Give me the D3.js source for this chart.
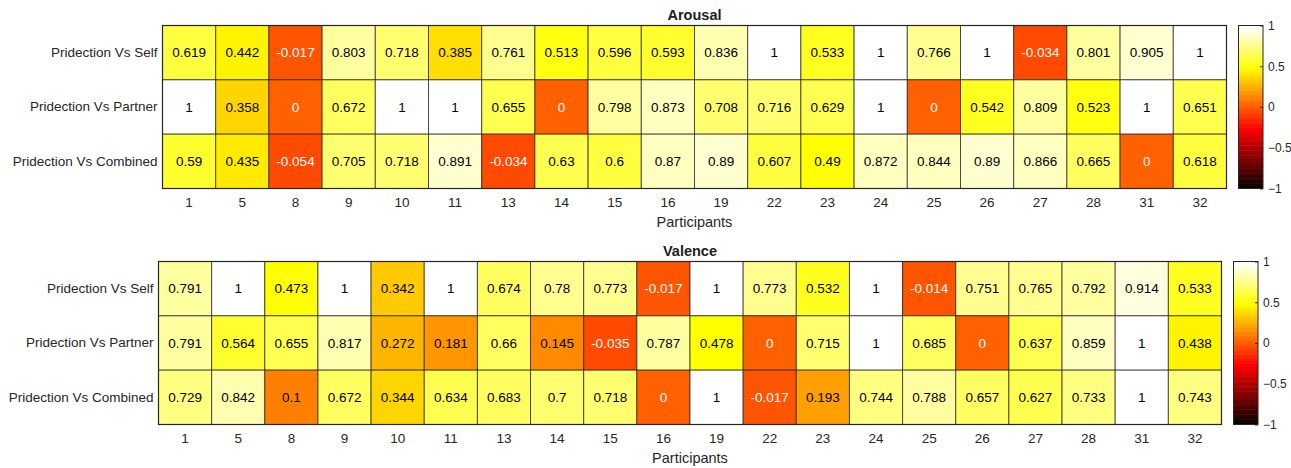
<!DOCTYPE html>
<html>
<head>
<meta charset="utf-8">
<script src="https://cdn.jsdelivr.net/npm/d3@7"></script>
<style>
  html, body { margin: 0; padding: 0; background: #fff; }
  svg { display: block; font-family: "Liberation Sans", Arial, Helvetica, sans-serif; }
</style>
</head>
<body>
<svg id="chart" width="1291" height="468"></svg>
<script>
// Participant IDs (columns) and comparison rows
const participants = [1, 5, 8, 9, 10, 11, 13, 14, 15, 16, 19, 22, 23, 24, 25, 26, 27, 28, 31, 32];
const comparisons = ["Pridection Vs Self", "Pridection Vs Partner", "Pridection Vs Combined"];

// Arousal correlations
const arousalSelf     = [0.619, 0.442, -0.017, 0.803, 0.718, 0.385, 0.761, 0.513, 0.596, 0.593, 0.836, 1, 0.533, 1, 0.766, 1, -0.034, 0.801, 0.905, 1];
const arousalPartner  = [1, 0.358, 0, 0.672, 1, 1, 0.655, 0, 0.798, 0.873, 0.708, 0.716, 0.629, 1, 0, 0.542, 0.809, 0.523, 1, 0.651];
const arousalCombined = [0.59, 0.435, -0.054, 0.705, 0.718, 0.891, -0.034, 0.63, 0.6, 0.87, 0.89, 0.607, 0.49, 0.872, 0.844, 0.89, 0.866, 0.665, 0, 0.618];

// Valence correlations
const valenceSelf     = [0.791, 1, 0.473, 1, 0.342, 1, 0.674, 0.78, 0.773, -0.017, 1, 0.773, 0.532, 1, -0.014, 0.751, 0.765, 0.792, 0.914, 0.533];
const valencePartner  = [0.791, 0.564, 0.655, 0.817, 0.272, 0.181, 0.66, 0.145, -0.035, 0.787, 0.478, 0, 0.715, 1, 0.685, 0, 0.637, 0.859, 1, 0.438];
const valenceCombined = [0.729, 0.842, 0.1, 0.672, 0.344, 0.634, 0.683, 0.7, 0.718, 0, 1, -0.017, 0.193, 0.744, 0.788, 0.657, 0.627, 0.733, 1, 0.743];

const colorbarTicks = [-1, -0.5, 0, 0.5, 1];
const xAxisTitle = "Participants";

// 64-step "hot" colormap
function hotColormap(n) {
  const n1 = Math.floor(3 * n / 8);
  const out = [];
  for (let i = 0; i < n; i++) {
    let r, g, b;
    r = i < n1 ? (i + 1) / n1 : 1;
    g = i < n1 ? 0 : (i < 2 * n1 ? (i - n1 + 1) / n1 : 1);
    b = i < 2 * n1 ? 0 : (i - 2 * n1 + 1) / (n - 2 * n1);
    out.push([r, g, b]);
  }
  return out;
}
const hot = hotColormap(64);
const hotCss = hot.map(([r, g, b]) => d3.rgb(Math.round(r * 255), Math.round(g * 255), Math.round(b * 255)).formatHex());
const color = d3.scaleQuantize().domain([-1, 1]).range(hotCss);

function textColorFor(v) {
  const c = d3.rgb(color(v));
  const lum = (0.299 * c.r + 0.587 * c.g + 0.114 * c.b) / 255;
  return lum < 0.55 ? "#ffffff" : "#000000";
}

const svg = d3.select("#chart");
const labelColor = "#262626";

function drawHeatmap(opts) {
  const { title, rows, left, right, top, bottom, cbLeft, cbWidth } = opts;
  const g = svg.append("g");

  const x = d3.scaleBand().domain(participants).range([left, right]);
  const y = d3.scaleBand().domain(comparisons).range([top, bottom]);

  const cells = [];
  comparisons.forEach((c, ri) => {
    rows[ri].forEach((v, ci) => cells.push({ row: c, col: participants[ci], v }));
  });

  g.selectAll("rect.cell").data(cells).enter().append("rect")
    .attr("class", "cell")
    .attr("x", d => x(d.col))
    .attr("y", d => y(d.row))
    .attr("width", x.bandwidth())
    .attr("height", y.bandwidth())
    .attr("fill", d => color(d.v))
    .attr("stroke", "#262626")
    .attr("stroke-opacity", 0.75)
    .attr("stroke-width", 1);

  g.selectAll("text.val").data(cells).enter().append("text")
    .attr("class", "val")
    .attr("x", d => x(d.col) + x.bandwidth() / 2)
    .attr("y", d => y(d.row) + y.bandwidth() / 2)
    .attr("text-anchor", "middle")
    .attr("dominant-baseline", "central")
    .attr("font-size", "13.5px")
    .attr("fill", d => textColorFor(d.v))
    .text(d => d3.format("~g")(d.v).replace("−", "-"));

  // outer frame
  g.append("rect")
    .attr("x", left).attr("y", top)
    .attr("width", right - left).attr("height", bottom - top)
    .attr("fill", "none").attr("stroke", "#262626").attr("stroke-width", 1.2);

  // x axis
  const xa = g.append("g")
    .attr("transform", `translate(0,${bottom})`)
    .call(d3.axisBottom(x).tickSize(0).tickPadding(9));
  xa.select(".domain").remove();
  xa.selectAll("text").attr("font-size", "13.5px").attr("fill", labelColor)
    .attr("font-family", "Liberation Sans, Arial, sans-serif");

  // y axis
  const ya = g.append("g")
    .attr("transform", `translate(${left},0)`)
    .call(d3.axisLeft(y).tickSize(0).tickPadding(5));
  ya.select(".domain").remove();
  ya.selectAll("text").attr("font-size", "13.5px").attr("fill", labelColor)
    .attr("font-family", "Liberation Sans, Arial, sans-serif");

  // title
  g.append("text")
    .attr("x", (left + right) / 2).attr("y", top - 6)
    .attr("text-anchor", "middle")
    .attr("font-size", "14.5px").attr("font-weight", "bold")
    .attr("fill", "#202020")
    .text(title);

  // x axis title
  g.append("text")
    .attr("x", (left + right) / 2).attr("y", bottom + 38)
    .attr("text-anchor", "middle")
    .attr("font-size", "14.5px").attr("fill", labelColor)
    .text(xAxisTitle);

  // colorbar
  const cy = d3.scaleLinear().domain([-1, 1]).range([bottom, top]);
  const steps = d3.range(hotCss.length);
  const stepH = (bottom - top) / hotCss.length;
  g.selectAll("rect.cb").data(steps).enter().append("rect")
    .attr("class", "cb")
    .attr("x", cbLeft)
    .attr("y", i => cy(-1 + 2 * (i + 1) / hotCss.length))
    .attr("width", cbWidth)
    .attr("height", stepH + 0.5)
    .attr("fill", i => hotCss[i]);
  g.append("rect")
    .attr("x", cbLeft).attr("y", top)
    .attr("width", cbWidth).attr("height", bottom - top)
    .attr("fill", "none").attr("stroke", "#262626").attr("stroke-width", 1);

  const ca = g.append("g")
    .attr("transform", `translate(${cbLeft + cbWidth},0)`)
    .call(d3.axisRight(cy).tickValues(colorbarTicks).tickFormat(d3.format("~g")).tickSizeInner(-3).tickSizeOuter(0).tickPadding(5));
  ca.select(".domain").remove();
  ca.selectAll("line").attr("stroke", "#262626");
  ca.selectAll("text").attr("font-size", "12px").attr("fill", labelColor)
    .attr("font-family", "Liberation Sans, Arial, sans-serif");
}

drawHeatmap({
  title: "Arousal",
  rows: [arousalSelf, arousalPartner, arousalCombined],
  left: 162.5, right: 1226.5, top: 25.5, bottom: 188.5,
  cbLeft: 1238.5, cbWidth: 24.5
});

drawHeatmap({
  title: "Valence",
  rows: [valenceSelf, valencePartner, valenceCombined],
  left: 158.5, right: 1221.5, top: 261.5, bottom: 424.5,
  cbLeft: 1233.5, cbWidth: 24.5
});
</script>
</body>
</html>
